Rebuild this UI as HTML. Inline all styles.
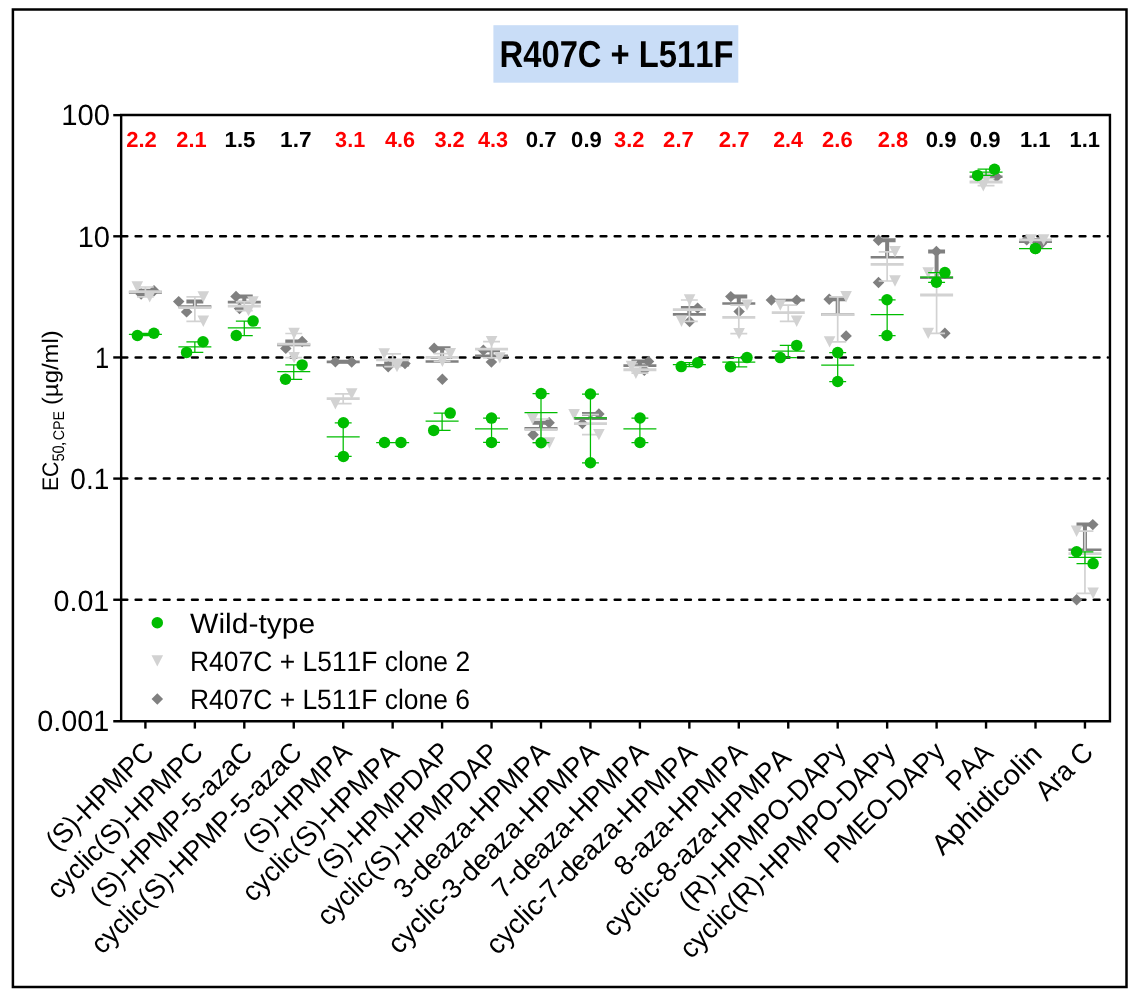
<!DOCTYPE html>
<html><head><meta charset="utf-8"><title>R407C + L511F</title><style>html,body{margin:0;padding:0;background:#fff}</style></head><body>
<svg width="1138" height="1000" viewBox="0 0 1138 1000" style="display:block;font-family:'Liberation Sans',sans-serif;font-kerning:none;text-rendering:geometricPrecision">
<rect width="1138" height="1000" fill="#fff"/>
<rect x="12.9" y="9.5" width="1113.6" height="977.5" fill="none" stroke="#000" stroke-width="2.5"/>
<rect x="493.4" y="25.2" width="244.9" height="57.5" fill="#c9ddf7"/>
<path d="M121.55 236.30H1107.95" stroke="#000" stroke-width="2.5" stroke-linecap="round" stroke-dasharray="5.75 8.34" fill="none"/>
<path d="M121.55 357.45H1107.95" stroke="#000" stroke-width="2.5" stroke-linecap="round" stroke-dasharray="5.75 8.34" fill="none"/>
<path d="M121.55 478.60H1107.95" stroke="#000" stroke-width="2.5" stroke-linecap="round" stroke-dasharray="5.75 8.34" fill="none"/>
<path d="M121.55 599.75H1107.95" stroke="#000" stroke-width="2.5" stroke-linecap="round" stroke-dasharray="5.75 8.34" fill="none"/>
<path d="M145.40 290.80V292.38M136.95 290.80H153.85" stroke="#808080" stroke-width="4.0" fill="none"/>
<path d="M128.90 292.38H161.90" stroke="#808080" stroke-width="2.6" fill="none"/>
<path d="M135.35 294.00L141.10 288.28L146.85 294.00L141.10 299.72Z" fill="#808080"/>
<path d="M148.25 290.80L154.00 285.08L159.75 290.80L154.00 296.52Z" fill="#808080"/>
<path d="M194.85 301.60V306.50M186.40 301.60H203.30" stroke="#808080" stroke-width="4.0" fill="none"/>
<path d="M178.35 306.50H211.35" stroke="#808080" stroke-width="2.6" fill="none"/>
<path d="M172.95 301.60L178.70 295.88L184.45 301.60L178.70 307.32Z" fill="#808080"/>
<path d="M180.85 311.90L186.60 306.18L192.35 311.90L186.60 317.62Z" fill="#808080"/>
<path d="M244.30 296.40V302.10M235.85 296.40H252.75" stroke="#808080" stroke-width="4.0" fill="none"/>
<path d="M227.80 302.10H260.80" stroke="#808080" stroke-width="2.6" fill="none"/>
<path d="M230.25 296.40L236.00 290.68L241.75 296.40L236.00 302.12Z" fill="#808080"/>
<path d="M233.75 308.50L239.50 302.78L245.25 308.50L239.50 314.22Z" fill="#808080"/>
<path d="M293.75 341.50V344.84M285.30 341.50H302.20" stroke="#808080" stroke-width="4.0" fill="none"/>
<path d="M277.25 344.84H310.25" stroke="#808080" stroke-width="2.6" fill="none"/>
<path d="M296.35 341.50L302.10 335.78L307.85 341.50L302.10 347.22Z" fill="#808080"/>
<path d="M280.05 348.40L285.80 342.68L291.55 348.40L285.80 354.12Z" fill="#808080"/>
<path d="M343.20 361.70V361.85M334.75 361.70H351.65" stroke="#808080" stroke-width="4.0" fill="none"/>
<path d="M326.70 361.85H359.70" stroke="#808080" stroke-width="2.6" fill="none"/>
<path d="M329.65 361.70L335.40 355.98L341.15 361.70L335.40 367.42Z" fill="#808080"/>
<path d="M345.95 362.00L351.70 356.28L357.45 362.00L351.70 367.72Z" fill="#808080"/>
<path d="M392.65 363.60V365.18M384.20 363.60H401.10" stroke="#808080" stroke-width="4.0" fill="none"/>
<path d="M376.15 365.18H409.15" stroke="#808080" stroke-width="2.6" fill="none"/>
<path d="M382.45 366.80L388.20 361.08L393.95 366.80L388.20 372.52Z" fill="#808080"/>
<path d="M399.25 363.60L405.00 357.88L410.75 363.60L405.00 369.32Z" fill="#808080"/>
<path d="M442.10 348.30V361.51M433.65 348.30H450.55" stroke="#808080" stroke-width="4.0" fill="none"/>
<path d="M425.60 361.51H458.60" stroke="#808080" stroke-width="2.6" fill="none"/>
<path d="M428.45 348.30L434.20 342.58L439.95 348.30L434.20 354.02Z" fill="#808080"/>
<path d="M436.65 379.20L442.40 373.48L448.15 379.20L442.40 384.92Z" fill="#808080"/>
<path d="M491.55 350.30V355.87M483.10 350.30H500.00" stroke="#808080" stroke-width="4.0" fill="none"/>
<path d="M475.05 355.87H508.05" stroke="#808080" stroke-width="2.6" fill="none"/>
<path d="M477.65 350.30L483.40 344.58L489.15 350.30L483.40 356.02Z" fill="#808080"/>
<path d="M485.65 362.10L491.40 356.38L497.15 362.10L491.40 367.82Z" fill="#808080"/>
<path d="M541.00 422.70V428.36M532.55 422.70H549.45" stroke="#808080" stroke-width="4.0" fill="none"/>
<path d="M524.50 428.36H557.50" stroke="#808080" stroke-width="2.6" fill="none"/>
<path d="M543.35 422.70L549.10 416.98L554.85 422.70L549.10 428.42Z" fill="#808080"/>
<path d="M527.35 434.70L533.10 428.98L538.85 434.70L533.10 440.42Z" fill="#808080"/>
<path d="M590.45 414.00V418.58M582.00 414.00H598.90" stroke="#808080" stroke-width="4.0" fill="none"/>
<path d="M573.95 418.58H606.95" stroke="#808080" stroke-width="2.6" fill="none"/>
<path d="M593.15 414.00L598.90 408.28L604.65 414.00L598.90 419.72Z" fill="#808080"/>
<path d="M576.65 423.60L582.40 417.88L588.15 423.60L582.40 429.32Z" fill="#808080"/>
<path d="M639.90 361.40V365.66M631.45 361.40H648.35" stroke="#808080" stroke-width="4.0" fill="none"/>
<path d="M623.40 365.66H656.40" stroke="#808080" stroke-width="2.6" fill="none"/>
<path d="M642.75 361.40L648.50 355.68L654.25 361.40L648.50 367.12Z" fill="#808080"/>
<path d="M638.55 370.30L644.30 364.58L650.05 370.30L644.30 376.02Z" fill="#808080"/>
<path d="M689.35 308.10V314.37M680.90 308.10H697.80" stroke="#808080" stroke-width="4.0" fill="none"/>
<path d="M672.85 314.37H705.85" stroke="#808080" stroke-width="2.6" fill="none"/>
<path d="M691.85 308.10L697.60 302.38L703.35 308.10L697.60 313.82Z" fill="#808080"/>
<path d="M683.85 321.50L689.60 315.78L695.35 321.50L689.60 327.22Z" fill="#808080"/>
<path d="M738.80 296.60V303.57M730.35 296.60H747.25" stroke="#808080" stroke-width="4.0" fill="none"/>
<path d="M722.30 303.57H755.30" stroke="#808080" stroke-width="2.6" fill="none"/>
<path d="M725.05 296.60L730.80 290.88L736.55 296.60L730.80 302.32Z" fill="#808080"/>
<path d="M733.35 311.60L739.10 305.88L744.85 311.60L739.10 317.32Z" fill="#808080"/>
<path d="M771.75 300.10H804.75" stroke="#808080" stroke-width="2.6" fill="none"/>
<path d="M765.65 300.10L771.40 294.38L777.15 300.10L771.40 305.82Z" fill="#808080"/>
<path d="M790.95 300.10L796.70 294.38L802.45 300.10L796.70 305.82Z" fill="#808080"/>
<path d="M837.70 299.30V314.48M829.25 299.30H846.15" stroke="#808080" stroke-width="4.0" fill="none"/>
<path d="M821.20 314.48H854.20" stroke="#808080" stroke-width="2.6" fill="none"/>
<path d="M823.45 299.30L829.20 293.58L834.95 299.30L829.20 305.02Z" fill="#808080"/>
<path d="M840.35 335.90L846.10 330.18L851.85 335.90L846.10 341.62Z" fill="#808080"/>
<path d="M887.15 240.30V257.28M878.70 240.30H895.60" stroke="#808080" stroke-width="4.0" fill="none"/>
<path d="M870.65 257.28H903.65" stroke="#808080" stroke-width="2.6" fill="none"/>
<path d="M872.75 240.30L878.50 234.58L884.25 240.30L878.50 246.02Z" fill="#808080"/>
<path d="M872.75 282.50L878.50 276.78L884.25 282.50L878.50 288.22Z" fill="#808080"/>
<path d="M936.60 251.40V277.80M928.15 251.40H945.05" stroke="#808080" stroke-width="4.0" fill="none"/>
<path d="M920.10 277.80H953.10" stroke="#808080" stroke-width="2.6" fill="none"/>
<path d="M930.65 251.40L936.40 245.68L942.15 251.40L936.40 257.12Z" fill="#808080"/>
<path d="M939.15 333.30L944.90 327.58L950.65 333.30L944.90 339.02Z" fill="#808080"/>
<path d="M969.55 176.80H1002.55" stroke="#808080" stroke-width="2.6" fill="none"/>
<path d="M990.75 176.80L996.50 171.08L1002.25 176.80L996.50 182.52Z" fill="#808080"/>
<path d="M971.85 176.80L977.60 171.08L983.35 176.80L977.60 182.52Z" fill="#808080"/>
<path d="M1035.50 239.90V241.67M1027.05 239.90H1043.95" stroke="#808080" stroke-width="4.0" fill="none"/>
<path d="M1019.00 241.67H1052.00" stroke="#808080" stroke-width="2.6" fill="none"/>
<path d="M1020.95 239.90L1026.70 234.18L1032.45 239.90L1026.70 245.62Z" fill="#808080"/>
<path d="M1035.75 243.50L1041.50 237.78L1047.25 243.50L1041.50 249.22Z" fill="#808080"/>
<path d="M1084.95 524.60V549.77M1076.50 524.60H1093.40" stroke="#808080" stroke-width="4.0" fill="none"/>
<path d="M1068.45 549.77H1101.45" stroke="#808080" stroke-width="2.6" fill="none"/>
<path d="M1087.05 524.60L1092.80 518.88L1098.55 524.60L1092.80 530.32Z" fill="#808080"/>
<path d="M1070.85 599.80L1076.60 594.08L1082.35 599.80L1076.60 605.52Z" fill="#808080"/>
<path d="M145.40 287.00V296.85M136.95 287.00H153.85M136.95 296.85H153.85" stroke="#d2d2d2" stroke-width="1.7" fill="none"/>
<path d="M128.90 291.69H161.90" stroke="#d2d2d2" stroke-width="2.85" fill="none"/>
<path d="M131.50 281.32H143.10L137.30 292.68Z" fill="#d2d2d2"/>
<path d="M143.90 291.17H155.50L149.70 302.53Z" fill="#d2d2d2"/>
<path d="M194.85 296.85V321.30M186.40 296.85H203.30M186.40 321.30H203.30" stroke="#d2d2d2" stroke-width="1.7" fill="none"/>
<path d="M178.35 307.67H211.35" stroke="#d2d2d2" stroke-width="2.85" fill="none"/>
<path d="M197.50 291.17H209.10L203.30 302.53Z" fill="#d2d2d2"/>
<path d="M197.50 315.62H209.10L203.30 326.98Z" fill="#d2d2d2"/>
<path d="M244.30 301.90V310.60M235.85 301.90H252.75M235.85 310.60H252.75" stroke="#d2d2d2" stroke-width="1.7" fill="none"/>
<path d="M227.80 306.07H260.80" stroke="#d2d2d2" stroke-width="2.85" fill="none"/>
<path d="M247.10 296.22H258.70L252.90 307.58Z" fill="#d2d2d2"/>
<path d="M242.70 304.92H254.30L248.50 316.28Z" fill="#d2d2d2"/>
<path d="M293.75 333.50V357.60M285.30 333.50H302.20M285.30 357.60H302.20" stroke="#d2d2d2" stroke-width="1.7" fill="none"/>
<path d="M277.25 344.18H310.25" stroke="#d2d2d2" stroke-width="2.85" fill="none"/>
<path d="M288.30 327.82H299.90L294.10 339.18Z" fill="#d2d2d2"/>
<path d="M288.30 351.92H299.90L294.10 363.28Z" fill="#d2d2d2"/>
<path d="M343.20 393.90V403.70M334.75 393.90H351.65M334.75 403.70H351.65" stroke="#d2d2d2" stroke-width="1.7" fill="none"/>
<path d="M326.70 398.57H359.70" stroke="#d2d2d2" stroke-width="2.85" fill="none"/>
<path d="M345.90 388.22H357.50L351.70 399.58Z" fill="#d2d2d2"/>
<path d="M329.60 398.02H341.20L335.40 409.38Z" fill="#d2d2d2"/>
<path d="M392.65 353.90V366.60M384.20 353.90H401.10M384.20 366.60H401.10" stroke="#d2d2d2" stroke-width="1.7" fill="none"/>
<path d="M376.15 359.87H409.15" stroke="#d2d2d2" stroke-width="2.85" fill="none"/>
<path d="M378.40 348.22H390.00L384.20 359.58Z" fill="#d2d2d2"/>
<path d="M391.20 360.92H402.80L397.00 372.28Z" fill="#d2d2d2"/>
<path d="M442.10 353.70V361.40M433.65 353.70H450.55M433.65 361.40H450.55" stroke="#d2d2d2" stroke-width="1.7" fill="none"/>
<path d="M425.60 357.41H458.60" stroke="#d2d2d2" stroke-width="2.85" fill="none"/>
<path d="M444.50 348.02H456.10L450.30 359.38Z" fill="#d2d2d2"/>
<path d="M436.60 355.72H448.20L442.40 367.08Z" fill="#d2d2d2"/>
<path d="M491.55 341.60V357.90M483.10 341.60H500.00M483.10 357.90H500.00" stroke="#d2d2d2" stroke-width="1.7" fill="none"/>
<path d="M475.05 349.12H508.05" stroke="#d2d2d2" stroke-width="2.85" fill="none"/>
<path d="M485.80 335.92H497.40L491.60 347.28Z" fill="#d2d2d2"/>
<path d="M494.00 352.22H505.60L499.80 363.58Z" fill="#d2d2d2"/>
<path d="M541.00 419.00V443.00M532.55 419.00H549.45M532.55 443.00H549.45" stroke="#d2d2d2" stroke-width="1.7" fill="none"/>
<path d="M524.50 429.64H557.50" stroke="#d2d2d2" stroke-width="2.85" fill="none"/>
<path d="M526.80 413.32H538.40L532.60 424.68Z" fill="#d2d2d2"/>
<path d="M543.60 437.32H555.20L549.40 448.68Z" fill="#d2d2d2"/>
<path d="M590.45 414.60V434.60M582.00 414.60H598.90M582.00 434.60H598.90" stroke="#d2d2d2" stroke-width="1.7" fill="none"/>
<path d="M573.95 423.66H606.95" stroke="#d2d2d2" stroke-width="2.85" fill="none"/>
<path d="M568.30 408.92H579.90L574.10 420.28Z" fill="#d2d2d2"/>
<path d="M593.10 428.92H604.70L598.90 440.28Z" fill="#d2d2d2"/>
<path d="M639.90 366.50V373.20M631.45 366.50H648.35M631.45 373.20H648.35" stroke="#d2d2d2" stroke-width="1.7" fill="none"/>
<path d="M623.40 369.74H656.40" stroke="#d2d2d2" stroke-width="2.85" fill="none"/>
<path d="M625.70 360.82H637.30L631.50 372.18Z" fill="#d2d2d2"/>
<path d="M630.10 367.52H641.70L635.90 378.88Z" fill="#d2d2d2"/>
<path d="M689.35 300.00V321.30M680.90 300.00H697.80M680.90 321.30H697.80" stroke="#d2d2d2" stroke-width="1.7" fill="none"/>
<path d="M672.85 309.58H705.85" stroke="#d2d2d2" stroke-width="2.85" fill="none"/>
<path d="M683.80 294.32H695.40L689.60 305.68Z" fill="#d2d2d2"/>
<path d="M675.70 315.62H687.30L681.50 326.98Z" fill="#d2d2d2"/>
<path d="M738.80 305.10V333.60M730.35 305.10H747.25M730.35 333.60H747.25" stroke="#d2d2d2" stroke-width="1.7" fill="none"/>
<path d="M722.30 317.44H755.30" stroke="#d2d2d2" stroke-width="2.85" fill="none"/>
<path d="M741.20 299.42H752.80L747.00 310.78Z" fill="#d2d2d2"/>
<path d="M733.30 327.92H744.90L739.10 339.28Z" fill="#d2d2d2"/>
<path d="M788.25 305.10V321.30M779.80 305.10H796.70M779.80 321.30H796.70" stroke="#d2d2d2" stroke-width="1.7" fill="none"/>
<path d="M771.75 312.58H804.75" stroke="#d2d2d2" stroke-width="2.85" fill="none"/>
<path d="M774.50 299.42H786.10L780.30 310.78Z" fill="#d2d2d2"/>
<path d="M790.90 315.62H802.50L796.70 326.98Z" fill="#d2d2d2"/>
<path d="M837.70 296.80V341.90M829.25 296.80H846.15M829.25 341.90H846.15" stroke="#d2d2d2" stroke-width="1.7" fill="none"/>
<path d="M821.20 314.66H854.20" stroke="#d2d2d2" stroke-width="2.85" fill="none"/>
<path d="M840.30 291.12H851.90L846.10 302.48Z" fill="#d2d2d2"/>
<path d="M823.80 336.22H835.40L829.60 347.58Z" fill="#d2d2d2"/>
<path d="M887.15 251.80V281.00M878.70 251.80H895.60M878.70 281.00H895.60" stroke="#d2d2d2" stroke-width="1.7" fill="none"/>
<path d="M870.65 264.40H903.65" stroke="#d2d2d2" stroke-width="2.85" fill="none"/>
<path d="M889.20 246.12H900.80L895.00 257.48Z" fill="#d2d2d2"/>
<path d="M889.20 275.32H900.80L895.00 286.68Z" fill="#d2d2d2"/>
<path d="M936.60 273.00V333.40M928.15 273.00H945.05M928.15 333.40H945.05" stroke="#d2d2d2" stroke-width="1.7" fill="none"/>
<path d="M920.10 294.97H953.10" stroke="#d2d2d2" stroke-width="2.85" fill="none"/>
<path d="M922.40 267.32H934.00L928.20 278.68Z" fill="#d2d2d2"/>
<path d="M922.40 327.72H934.00L928.20 339.08Z" fill="#d2d2d2"/>
<path d="M986.05 178.60V185.70M977.60 178.60H994.50M977.60 185.70H994.50" stroke="#d2d2d2" stroke-width="1.7" fill="none"/>
<path d="M969.55 182.03H1002.55" stroke="#d2d2d2" stroke-width="2.85" fill="none"/>
<path d="M977.50 180.02H989.10L983.30 191.38Z" fill="#d2d2d2"/>
<path d="M980.60 172.92H992.20L986.40 184.28Z" fill="#d2d2d2"/>
<path d="M1019.00 239.90H1052.00" stroke="#d2d2d2" stroke-width="2.85" fill="none"/>
<path d="M1025.10 234.22H1036.70L1030.90 245.58Z" fill="#d2d2d2"/>
<path d="M1037.80 234.22H1049.40L1043.60 245.58Z" fill="#d2d2d2"/>
<path d="M1084.95 531.20V593.30M1076.50 531.20H1093.40M1076.50 593.30H1093.40" stroke="#d2d2d2" stroke-width="1.7" fill="none"/>
<path d="M1068.45 553.58H1101.45" stroke="#d2d2d2" stroke-width="2.85" fill="none"/>
<path d="M1070.80 525.52H1082.40L1076.60 536.88Z" fill="#d2d2d2"/>
<path d="M1087.30 587.62H1098.90L1093.10 598.98Z" fill="#d2d2d2"/>
<path d="M145.40 333.30V335.50M136.95 333.30H153.85M136.95 335.50H153.85" stroke="#00bd00" stroke-width="1.25" fill="none"/>
<path d="M128.90 334.39H161.90" stroke="#00bd00" stroke-width="1.25" fill="none"/>
<circle cx="137.40" cy="335.50" r="5.75" fill="#00bd00"/>
<circle cx="153.90" cy="333.30" r="5.75" fill="#00bd00"/>
<path d="M194.85 341.80V352.40M186.40 341.80H203.30M186.40 352.40H203.30" stroke="#00bd00" stroke-width="1.25" fill="none"/>
<path d="M178.35 346.83H211.35" stroke="#00bd00" stroke-width="1.25" fill="none"/>
<circle cx="203.00" cy="341.80" r="5.75" fill="#00bd00"/>
<circle cx="186.60" cy="352.40" r="5.75" fill="#00bd00"/>
<path d="M244.30 321.10V335.50M235.85 321.10H252.75M235.85 335.50H252.75" stroke="#00bd00" stroke-width="1.25" fill="none"/>
<path d="M227.80 327.81H260.80" stroke="#00bd00" stroke-width="1.25" fill="none"/>
<circle cx="253.10" cy="321.10" r="5.75" fill="#00bd00"/>
<circle cx="236.30" cy="335.50" r="5.75" fill="#00bd00"/>
<path d="M293.75 364.90V379.30M285.30 364.90H302.20M285.30 379.30H302.20" stroke="#00bd00" stroke-width="1.25" fill="none"/>
<path d="M277.25 371.61H310.25" stroke="#00bd00" stroke-width="1.25" fill="none"/>
<circle cx="302.10" cy="364.90" r="5.75" fill="#00bd00"/>
<circle cx="285.50" cy="379.30" r="5.75" fill="#00bd00"/>
<path d="M343.20 422.80V456.40M334.75 422.80H351.65M334.75 456.40H351.65" stroke="#00bd00" stroke-width="1.25" fill="none"/>
<path d="M326.70 436.96H359.70" stroke="#00bd00" stroke-width="1.25" fill="none"/>
<circle cx="343.40" cy="422.80" r="5.75" fill="#00bd00"/>
<circle cx="343.40" cy="456.40" r="5.75" fill="#00bd00"/>
<path d="M376.15 442.50H409.15" stroke="#00bd00" stroke-width="1.25" fill="none"/>
<circle cx="384.50" cy="442.50" r="5.75" fill="#00bd00"/>
<circle cx="401.00" cy="442.50" r="5.75" fill="#00bd00"/>
<path d="M442.10 413.10V430.40M433.65 413.10H450.55M433.65 430.40H450.55" stroke="#00bd00" stroke-width="1.25" fill="none"/>
<path d="M425.60 421.04H458.60" stroke="#00bd00" stroke-width="1.25" fill="none"/>
<circle cx="450.20" cy="413.10" r="5.75" fill="#00bd00"/>
<circle cx="433.70" cy="430.40" r="5.75" fill="#00bd00"/>
<path d="M491.55 418.10V442.40M483.10 418.10H500.00M483.10 442.40H500.00" stroke="#00bd00" stroke-width="1.25" fill="none"/>
<path d="M475.05 428.86H508.05" stroke="#00bd00" stroke-width="1.25" fill="none"/>
<circle cx="491.50" cy="418.10" r="5.75" fill="#00bd00"/>
<circle cx="491.50" cy="442.40" r="5.75" fill="#00bd00"/>
<path d="M541.00 393.60V442.70M532.55 393.60H549.45M532.55 442.70H549.45" stroke="#00bd00" stroke-width="1.25" fill="none"/>
<path d="M524.50 412.62H557.50" stroke="#00bd00" stroke-width="1.25" fill="none"/>
<circle cx="541.10" cy="393.60" r="5.75" fill="#00bd00"/>
<circle cx="541.10" cy="442.70" r="5.75" fill="#00bd00"/>
<path d="M590.45 394.00V462.80M582.00 394.00H598.90M582.00 462.80H598.90" stroke="#00bd00" stroke-width="1.25" fill="none"/>
<path d="M573.95 417.87H606.95" stroke="#00bd00" stroke-width="1.25" fill="none"/>
<circle cx="590.40" cy="394.00" r="5.75" fill="#00bd00"/>
<circle cx="590.40" cy="462.80" r="5.75" fill="#00bd00"/>
<path d="M639.90 418.00V442.50M631.45 418.00H648.35M631.45 442.50H648.35" stroke="#00bd00" stroke-width="1.25" fill="none"/>
<path d="M623.40 428.84H656.40" stroke="#00bd00" stroke-width="1.25" fill="none"/>
<circle cx="640.00" cy="418.00" r="5.75" fill="#00bd00"/>
<circle cx="640.00" cy="442.50" r="5.75" fill="#00bd00"/>
<path d="M689.35 362.70V366.60M680.90 362.70H697.80M680.90 366.60H697.80" stroke="#00bd00" stroke-width="1.25" fill="none"/>
<path d="M672.85 364.61H705.85" stroke="#00bd00" stroke-width="1.25" fill="none"/>
<circle cx="681.20" cy="366.60" r="5.75" fill="#00bd00"/>
<circle cx="697.70" cy="362.70" r="5.75" fill="#00bd00"/>
<path d="M738.80 357.60V366.80M730.35 357.60H747.25M730.35 366.80H747.25" stroke="#00bd00" stroke-width="1.25" fill="none"/>
<path d="M722.30 362.00H755.30" stroke="#00bd00" stroke-width="1.25" fill="none"/>
<circle cx="747.00" cy="357.60" r="5.75" fill="#00bd00"/>
<circle cx="730.50" cy="366.80" r="5.75" fill="#00bd00"/>
<path d="M788.25 345.40V357.60M779.80 345.40H796.70M779.80 357.60H796.70" stroke="#00bd00" stroke-width="1.25" fill="none"/>
<path d="M771.75 351.15H804.75" stroke="#00bd00" stroke-width="1.25" fill="none"/>
<circle cx="796.70" cy="345.40" r="5.75" fill="#00bd00"/>
<circle cx="780.30" cy="357.60" r="5.75" fill="#00bd00"/>
<path d="M837.70 352.60V381.50M829.25 352.60H846.15M829.25 381.50H846.15" stroke="#00bd00" stroke-width="1.25" fill="none"/>
<path d="M821.20 365.09H854.20" stroke="#00bd00" stroke-width="1.25" fill="none"/>
<circle cx="837.70" cy="352.60" r="5.75" fill="#00bd00"/>
<circle cx="837.70" cy="381.50" r="5.75" fill="#00bd00"/>
<path d="M887.15 299.80V335.50M878.70 299.80H895.60M878.70 335.50H895.60" stroke="#00bd00" stroke-width="1.25" fill="none"/>
<path d="M870.65 314.68H903.65" stroke="#00bd00" stroke-width="1.25" fill="none"/>
<circle cx="887.00" cy="299.80" r="5.75" fill="#00bd00"/>
<circle cx="887.00" cy="335.50" r="5.75" fill="#00bd00"/>
<path d="M936.60 272.60V282.30M928.15 272.60H945.05M928.15 282.30H945.05" stroke="#00bd00" stroke-width="1.25" fill="none"/>
<path d="M920.10 277.23H953.10" stroke="#00bd00" stroke-width="1.25" fill="none"/>
<circle cx="944.90" cy="272.60" r="5.75" fill="#00bd00"/>
<circle cx="936.40" cy="282.30" r="5.75" fill="#00bd00"/>
<path d="M986.05 169.20V175.40M977.60 169.20H994.50M977.60 175.40H994.50" stroke="#00bd00" stroke-width="1.25" fill="none"/>
<path d="M969.55 172.21H1002.55" stroke="#00bd00" stroke-width="1.25" fill="none"/>
<circle cx="977.60" cy="175.40" r="5.75" fill="#00bd00"/>
<circle cx="994.50" cy="169.20" r="5.75" fill="#00bd00"/>
<path d="M1019.00 248.50H1052.00" stroke="#00bd00" stroke-width="1.25" fill="none"/>
<circle cx="1035.40" cy="248.50" r="5.75" fill="#00bd00"/>
<circle cx="1035.40" cy="248.50" r="5.75" fill="#00bd00"/>
<path d="M1084.95 551.80V563.60M1076.50 551.80H1093.40M1076.50 563.60H1093.40" stroke="#00bd00" stroke-width="1.25" fill="none"/>
<path d="M1068.45 557.37H1101.45" stroke="#00bd00" stroke-width="1.25" fill="none"/>
<circle cx="1076.60" cy="551.80" r="5.75" fill="#00bd00"/>
<circle cx="1093.10" cy="563.60" r="5.75" fill="#00bd00"/>
<path d="M121.15 721.3V114.95H1109.95V721.3H113.25" fill="none" stroke="#000" stroke-width="2.4"/>
<path d="M113.25 115.15H121.15" stroke="#000" stroke-width="2.4"/>
<path d="M113.25 236.30H121.15" stroke="#000" stroke-width="2.4"/>
<path d="M113.25 357.45H121.15" stroke="#000" stroke-width="2.4"/>
<path d="M113.25 478.60H121.15" stroke="#000" stroke-width="2.4"/>
<path d="M113.25 599.75H121.15" stroke="#000" stroke-width="2.4"/>
<path d="M145.40 721.3V728.5999999999999" stroke="#000" stroke-width="2.4"/>
<path d="M194.85 721.3V728.5999999999999" stroke="#000" stroke-width="2.4"/>
<path d="M244.30 721.3V728.5999999999999" stroke="#000" stroke-width="2.4"/>
<path d="M293.75 721.3V728.5999999999999" stroke="#000" stroke-width="2.4"/>
<path d="M343.20 721.3V728.5999999999999" stroke="#000" stroke-width="2.4"/>
<path d="M392.65 721.3V728.5999999999999" stroke="#000" stroke-width="2.4"/>
<path d="M442.10 721.3V728.5999999999999" stroke="#000" stroke-width="2.4"/>
<path d="M491.55 721.3V728.5999999999999" stroke="#000" stroke-width="2.4"/>
<path d="M541.00 721.3V728.5999999999999" stroke="#000" stroke-width="2.4"/>
<path d="M590.45 721.3V728.5999999999999" stroke="#000" stroke-width="2.4"/>
<path d="M639.90 721.3V728.5999999999999" stroke="#000" stroke-width="2.4"/>
<path d="M689.35 721.3V728.5999999999999" stroke="#000" stroke-width="2.4"/>
<path d="M738.80 721.3V728.5999999999999" stroke="#000" stroke-width="2.4"/>
<path d="M788.25 721.3V728.5999999999999" stroke="#000" stroke-width="2.4"/>
<path d="M837.70 721.3V728.5999999999999" stroke="#000" stroke-width="2.4"/>
<path d="M887.15 721.3V728.5999999999999" stroke="#000" stroke-width="2.4"/>
<path d="M936.60 721.3V728.5999999999999" stroke="#000" stroke-width="2.4"/>
<path d="M986.05 721.3V728.5999999999999" stroke="#000" stroke-width="2.4"/>
<path d="M1035.50 721.3V728.5999999999999" stroke="#000" stroke-width="2.4"/>
<path d="M1084.95 721.3V728.5999999999999" stroke="#000" stroke-width="2.4"/>
<circle cx="157.30" cy="622.70" r="5.75" fill="#00bd00"/>
<path d="M151.50 655.22H163.10L157.30 666.58Z" fill="#d2d2d2"/>
<path d="M151.55 699.05L157.30 693.33L163.05 699.05L157.30 704.77Z" fill="#808080"/>
<defs><filter id="gs" x="0" y="0" width="1138" height="1000" filterUnits="userSpaceOnUse" color-interpolation-filters="sRGB"><feColorMatrix type="saturate" values="0"/></filter></defs>
<defs><filter id="rd" x="0" y="0" width="1138" height="1000" filterUnits="userSpaceOnUse" color-interpolation-filters="sRGB"><feColorMatrix type="matrix" values="0 0 0 0 1  0 0 0 0 0  0 0 0 0 0  0 0 0 1 0"/></filter></defs>
<g filter="url(#rd)">
<text x="126.24" y="146.70" font-size="21.7" font-weight="bold" fill="#000" textLength="30.65" lengthAdjust="spacingAndGlyphs">2.2</text>
<text x="176.34" y="146.70" font-size="21.7" font-weight="bold" fill="#000" textLength="30.37" lengthAdjust="spacingAndGlyphs">2.1</text>
<text x="335.10" y="146.70" font-size="21.7" font-weight="bold" fill="#000" textLength="30.10" lengthAdjust="spacingAndGlyphs">3.1</text>
<text x="385.07" y="146.70" font-size="21.7" font-weight="bold" fill="#000" textLength="30.11" lengthAdjust="spacingAndGlyphs">4.6</text>
<text x="434.40" y="146.70" font-size="21.7" font-weight="bold" fill="#000" textLength="30.38" lengthAdjust="spacingAndGlyphs">3.2</text>
<text x="477.97" y="146.70" font-size="21.7" font-weight="bold" fill="#000" textLength="30.11" lengthAdjust="spacingAndGlyphs">4.3</text>
<text x="614.00" y="146.70" font-size="21.7" font-weight="bold" fill="#000" textLength="30.38" lengthAdjust="spacingAndGlyphs">3.2</text>
<text x="663.13" y="146.70" font-size="21.7" font-weight="bold" fill="#000" textLength="30.74" lengthAdjust="spacingAndGlyphs">2.7</text>
<text x="718.73" y="146.70" font-size="21.7" font-weight="bold" fill="#000" textLength="30.74" lengthAdjust="spacingAndGlyphs">2.7</text>
<text x="773.16" y="146.70" font-size="21.7" font-weight="bold" fill="#000" textLength="29.86" lengthAdjust="spacingAndGlyphs">2.4</text>
<text x="822.14" y="146.70" font-size="21.7" font-weight="bold" fill="#000" textLength="30.56" lengthAdjust="spacingAndGlyphs">2.6</text>
<text x="877.74" y="146.70" font-size="21.7" font-weight="bold" fill="#000" textLength="30.43" lengthAdjust="spacingAndGlyphs">2.8</text>
</g>
<g filter="url(#gs)">
<text x="499.61" y="66.90" font-size="37.5" font-weight="bold" fill="#000" textLength="233.79" lengthAdjust="spacingAndGlyphs">R407C + L511F</text>
<text x="61.27" y="125.25" font-size="29.3" fill="#000" textLength="48.77" lengthAdjust="spacingAndGlyphs">100</text>
<text x="77.68" y="246.80" font-size="29.3" fill="#000" textLength="32.35" lengthAdjust="spacingAndGlyphs">10</text>
<text x="94.96" y="368.05" font-size="29.3" fill="#000" textLength="14.19" lengthAdjust="spacingAndGlyphs">1</text>
<text x="70.31" y="489.35" font-size="29.3" fill="#000" textLength="38.96" lengthAdjust="spacingAndGlyphs">0.1</text>
<text x="53.48" y="610.90" font-size="29.3" fill="#000" textLength="55.82" lengthAdjust="spacingAndGlyphs">0.01</text>
<text x="37.17" y="731.40" font-size="29.3" fill="#000" textLength="72.13" lengthAdjust="spacingAndGlyphs">0.001</text>
<text x="224.49" y="146.70" font-size="21.7" font-weight="bold" fill="#000" textLength="31.03" lengthAdjust="spacingAndGlyphs">1.5</text>
<text x="280.08" y="146.70" font-size="21.7" font-weight="bold" fill="#000" textLength="31.42" lengthAdjust="spacingAndGlyphs">1.7</text>
<text x="525.82" y="146.70" font-size="21.7" font-weight="bold" fill="#000" textLength="30.85" lengthAdjust="spacingAndGlyphs">0.7</text>
<text x="571.13" y="146.70" font-size="21.7" font-weight="bold" fill="#000" textLength="30.69" lengthAdjust="spacingAndGlyphs">0.9</text>
<text x="925.73" y="146.70" font-size="21.7" font-weight="bold" fill="#000" textLength="30.69" lengthAdjust="spacingAndGlyphs">0.9</text>
<text x="969.83" y="146.70" font-size="21.7" font-weight="bold" fill="#000" textLength="30.69" lengthAdjust="spacingAndGlyphs">0.9</text>
<text x="1019.92" y="146.70" font-size="21.7" font-weight="bold" fill="#000" textLength="30.49" lengthAdjust="spacingAndGlyphs">1.1</text>
<text x="1069.52" y="146.70" font-size="21.7" font-weight="bold" fill="#000" textLength="30.49" lengthAdjust="spacingAndGlyphs">1.1</text>
<text x="190.07" y="632.90" font-size="28" fill="#000" textLength="125.17" lengthAdjust="spacingAndGlyphs">Wild-type</text>
<text x="190.03" y="670.80" font-size="28" fill="#000" textLength="280.10" lengthAdjust="spacingAndGlyphs">R407C + L511F clone 2</text>
<text x="190.03" y="708.70" font-size="28" fill="#000" textLength="279.93" lengthAdjust="spacingAndGlyphs">R407C + L511F clone 6</text>
<g transform="translate(58.2,489.4) rotate(-90)"><text x="-1.64" y="0.00" font-size="22.5" fill="#000" textLength="29.45" lengthAdjust="spacingAndGlyphs">EC</text><text x="27.81" y="6.20" font-size="16.7" fill="#000" textLength="16.36" lengthAdjust="spacingAndGlyphs">50</text><text x="42.95" y="6.20" font-size="16.7" fill="#000" textLength="5.10" lengthAdjust="spacingAndGlyphs">,</text><text x="49.08" y="6.20" font-size="15.5" fill="#000" textLength="29.23" lengthAdjust="spacingAndGlyphs">CPE</text><text x="84.32" y="0.00" font-size="22.5" fill="#000" textLength="74.87" lengthAdjust="spacingAndGlyphs">(µg/ml)</text></g>
<text transform="translate(155.29,753.81) rotate(-45)" x="-138.68" y="0" font-size="28" textLength="138.68" lengthAdjust="spacingAndGlyphs">(S)-HPMPC</text>
<text transform="translate(204.74,753.81) rotate(-45)" x="-207.14" y="0" font-size="28" textLength="207.14" lengthAdjust="spacingAndGlyphs">cyclic(S)-HPMPC</text>
<text transform="translate(254.19,753.81) rotate(-45)" x="-216.30" y="0" font-size="28" textLength="216.30" lengthAdjust="spacingAndGlyphs">(S)-HPMP-5-azaC</text>
<text transform="translate(303.64,753.81) rotate(-45)" x="-284.76" y="0" font-size="28" textLength="284.76" lengthAdjust="spacingAndGlyphs">cyclic(S)-HPMP-5-azaC</text>
<text transform="translate(353.09,753.81) rotate(-45)" x="-140.10" y="0" font-size="28" textLength="140.10" lengthAdjust="spacingAndGlyphs">(S)-HPMPA</text>
<text transform="translate(400.78,755.57) rotate(-45)" x="-208.56" y="0" font-size="28" textLength="208.56" lengthAdjust="spacingAndGlyphs">cyclic(S)-HPMPA</text>
<text transform="translate(451.99,753.81) rotate(-45)" x="-175.64" y="0" font-size="28" textLength="175.64" lengthAdjust="spacingAndGlyphs">(S)-HPMPDAP</text>
<text transform="translate(500.74,754.51) rotate(-45)" x="-244.10" y="0" font-size="28" textLength="244.10" lengthAdjust="spacingAndGlyphs">cyclic(S)-HPMPDAP</text>
<text transform="translate(550.89,753.81) rotate(-45)" x="-206.77" y="0" font-size="28" textLength="206.77" lengthAdjust="spacingAndGlyphs">3-deaza-HPMPA</text>
<text transform="translate(600.34,753.81) rotate(-45)" x="-284.84" y="0" font-size="28" textLength="284.84" lengthAdjust="spacingAndGlyphs">cyclic-3-deaza-HPMPA</text>
<text transform="translate(649.79,753.81) rotate(-45)" x="-206.77" y="0" font-size="28" textLength="206.77" lengthAdjust="spacingAndGlyphs">7-deaza-HPMPA</text>
<text transform="translate(698.54,754.51) rotate(-45)" x="-284.84" y="0" font-size="28" textLength="284.84" lengthAdjust="spacingAndGlyphs">cyclic-7-deaza-HPMPA</text>
<text transform="translate(748.69,753.81) rotate(-45)" x="-174.65" y="0" font-size="28" textLength="174.65" lengthAdjust="spacingAndGlyphs">8-aza-HPMPA</text>
<text transform="translate(792.49,759.46) rotate(-45)" x="-252.72" y="0" font-size="28" textLength="252.72" lengthAdjust="spacingAndGlyphs">cyclic-8-aza-HPMPA</text>
<text transform="translate(847.59,753.81) rotate(-45)" x="-222.88" y="0" font-size="28" textLength="222.88" lengthAdjust="spacingAndGlyphs">(R)-HPMPO-DAPy</text>
<text transform="translate(897.04,753.81) rotate(-45)" x="-291.34" y="0" font-size="28" textLength="291.34" lengthAdjust="spacingAndGlyphs">cyclic(R)-HPMPO-DAPy</text>
<text transform="translate(946.49,753.81) rotate(-45)" x="-156.72" y="0" font-size="28" textLength="156.72" lengthAdjust="spacingAndGlyphs">PMEO-DAPy</text>
<text transform="translate(994.53,755.22) rotate(-45)" x="-52.56" y="0" font-size="28" textLength="52.56" lengthAdjust="spacingAndGlyphs">PAA</text>
<text transform="translate(1043.63,755.57) rotate(-45)" x="-142.82" y="0" font-size="28" textLength="142.82" lengthAdjust="spacingAndGlyphs">Aphidicolin</text>
<text transform="translate(1094.84,753.81) rotate(-45)" x="-68.00" y="0" font-size="28" textLength="68.00" lengthAdjust="spacingAndGlyphs">Ara C</text>
</g>
</svg>
</body></html>
